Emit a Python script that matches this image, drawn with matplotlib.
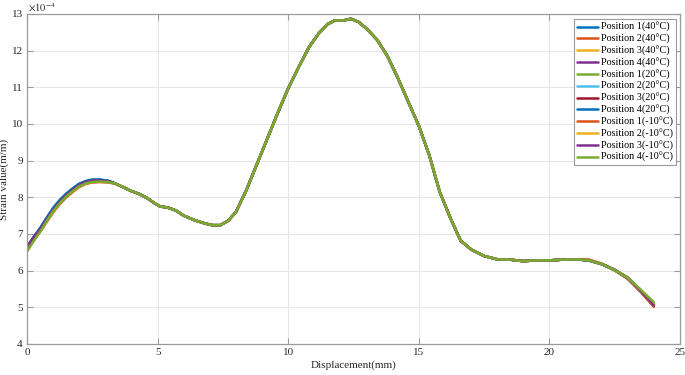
import numpy as np
import matplotlib

matplotlib.use("Agg")
import matplotlib.pyplot as plt

plt.rcParams.update(
    {
        "font.family": ["Liberation Serif", "DejaVu Serif"],
        "font.size": 8,
        "mathtext.fontset": "stix",
    }
)

# ---------------------------------------------------------------------------
# Data (strain in units of 1e-4 m/m)
# ---------------------------------------------------------------------------
displacement = [
    0.0, 0.25, 0.5, 0.75, 1.0, 1.25, 1.5, 1.75, 2.0, 2.25, 2.5, 2.8, 3.1,
    3.4, 3.7, 4.0, 4.3, 4.6, 4.9, 5.1, 5.4, 5.7, 6.0, 6.4, 6.8, 7.1, 7.4,
    7.7, 8.0, 8.4, 8.8, 9.2, 9.6, 10.0, 10.4, 10.8, 11.2, 11.5, 11.8, 12.1,
    12.4, 12.7, 13.0, 13.4, 13.8, 14.2, 14.6, 15.0, 15.4, 15.8, 16.2, 16.6,
    17.0, 17.5, 18.0, 18.5, 19.0, 19.5, 20.0, 20.5, 21.0,
    21.5, 22.0, 22.5, 23.0, 23.5, 24.0,
]
strain_base = [
    6.58, 6.85, 7.10, 7.38, 7.65, 7.87, 8.05, 8.20, 8.33, 8.41, 8.45, 8.46, 8.44,
    8.37, 8.27, 8.17, 8.09, 7.98, 7.83, 7.75, 7.72, 7.64, 7.50, 7.38, 7.29, 7.24, 7.24,
    7.36, 7.60, 8.20, 8.90, 9.60, 10.30, 10.97, 11.55, 12.10, 12.50, 12.72, 12.83, 12.82,
    12.87, 12.78, 12.60, 12.30, 11.85, 11.25, 10.60, 9.95, 9.15, 8.15, 7.45, 6.82,
    6.58, 6.40, 6.31, 6.30, 6.26, 6.28, 6.28, 6.30, 6.31,
    6.28, 6.18, 6.02, 5.80, 5.45, 5.08,
]

labels = [
    "Position 1(40\u00b0C)", "Position 2(40\u00b0C)", "Position 3(40\u00b0C)",
    "Position 4(40\u00b0C)", "Position 1(20\u00b0C)", "Position 2(20\u00b0C)",
    "Position 3(20\u00b0C)", "Position 4(20\u00b0C)", "Position 1(-10\u00b0C)",
    "Position 2(-10\u00b0C)", "Position 3(-10\u00b0C)", "Position 4(-10\u00b0C)",
]

# per-series deviations from the base curve over the first 13 points
head_dev = [
    [0.06, 0.06, 0.06, 0.06, 0.06, 0.05, 0.05, 0.04, 0.04, 0.03, 0.03, 0.02, 0.01],
    [0.00, -0.02, -0.04, -0.05, -0.06, -0.06, -0.05, -0.05, -0.04, -0.04, -0.04, -0.04, -0.03],
    [0.02, 0.01, 0.00, -0.01, -0.02, -0.03, -0.03, -0.03, -0.03, -0.02, -0.02, -0.02, -0.01],
    [0.08, 0.06, 0.04, 0.03, 0.02, 0.02, 0.02, 0.02, 0.02, 0.02, 0.02, 0.01, 0.01],
    [0.00, 0.00, 0.00, 0.00, 0.00, 0.00, 0.00, 0.00, 0.00, 0.00, 0.00, 0.00, 0.00],
    [0.04, 0.04, 0.04, 0.04, 0.04, 0.04, 0.03, 0.03, 0.03, 0.03, 0.02, 0.02, 0.01],
    [0.05, 0.03, 0.01, 0.00, -0.01, -0.02, -0.02, -0.02, -0.02, -0.02, -0.02, -0.01, 0.00],
    [0.05, 0.05, 0.05, 0.05, 0.05, 0.05, 0.04, 0.04, 0.04, 0.03, 0.03, 0.02, 0.01],
    [-0.02, -0.03, -0.04, -0.05, -0.05, -0.05, -0.05, -0.05, -0.05, -0.04, -0.04, -0.04, -0.03],
    [-0.03, -0.03, -0.03, -0.03, -0.03, -0.03, -0.03, -0.03, -0.03, -0.03, -0.03, -0.03, -0.02],
    [0.07, 0.05, 0.03, 0.02, 0.01, 0.01, 0.01, 0.01, 0.01, 0.01, 0.01, 0.00, 0.00],
    [-0.06, -0.05, -0.04, -0.03, -0.03, -0.03, -0.03, -0.03, -0.03, -0.03, -0.03, -0.03, -0.02],
]
# per-series deviations over the last 6 points
tail_dev = [
    [0.00, 0.00, -0.01, -0.02, -0.02, 0.00],
    [0.02, 0.01, 0.00, -0.01, -0.02, -0.04],
    [0.01, 0.00, 0.00, 0.00, -0.01, -0.02],
    [0.00, 0.00, 0.00, 0.01, 0.01, -0.02],
    [0.00, 0.00, 0.00, 0.00, 0.02, 0.05],
    [0.00, -0.01, -0.01, -0.01, 0.00, 0.02],
    [0.01, 0.00, -0.01, -0.02, -0.03, -0.06],
    [0.00, 0.00, 0.00, -0.01, -0.01, 0.00],
    [0.02, 0.01, 0.00, -0.01, -0.02, -0.05],
    [0.01, 0.00, 0.00, 0.00, 0.00, 0.01],
    [0.00, 0.00, 0.01, 0.01, 0.00, -0.02],
    [0.00, 0.00, 0.00, 0.01, 0.03, 0.05],
]

colors = [
    "#0072BD", "#D95319", "#EDB120", "#7E2F8E", "#77AC30", "#4DBEEE",
    "#A2142F", "#0072BD", "#D95319", "#EDB120", "#7E2F8E", "#77AC30",
]

# ---------------------------------------------------------------------------
# Figure
# ---------------------------------------------------------------------------
fig = plt.figure(figsize=(6.85, 3.75), dpi=100)
ax = fig.add_axes([0.0394, 0.0827, 0.9533, 0.88])

x = np.array(displacement)
base = np.array(strain_base)
n_mid = len(base) - 13 - 6

for i, lab in enumerate(labels):
    dev = np.concatenate([head_dev[i], np.zeros(n_mid), tail_dev[i]])
    ax.plot(x, base + dev, color=colors[i], lw=1.8, label=lab,
            solid_joinstyle="round", solid_capstyle="round")

ax.set_xlim(0, 25)
ax.set_ylim(4, 13)
ax.set_xticks([0, 5, 10, 15, 20, 25])
ax.set_yticks(range(4, 14))
ax.grid(True, color="#e6e6e6", lw=0.7)
ax.set_axisbelow(True)

for s in ax.spines.values():
    s.set_color("#9a9a9a")
    s.set_linewidth(0.9)
ax.tick_params(axis="both", direction="in", top=True, right=True, length=4,
               width=0.8, color="#9a9a9a", labelcolor="#262626", labelsize=8,
               pad=3)

ax.set_xlabel("Displacement(mm)", fontsize=8, color="#262626", labelpad=2)
ax.set_ylabel("Strain value(m/m)", fontsize=8, color="#262626", labelpad=2)
ax.text(0.002, 1.0, r"$\times10^{-4}$", transform=ax.transAxes, ha="left",
        va="bottom", fontsize=7.5, color="#262626")

leg = ax.legend(loc="upper right", bbox_to_anchor=(0.997, 0.99), fontsize=7.3,
                handlelength=2.1, handletextpad=0.25, labelspacing=0.18,
                borderpad=0.3, borderaxespad=0.2, fancybox=False, framealpha=1)
leg.get_frame().set_edgecolor("#9a9a9a")
leg.get_frame().set_linewidth(0.8)
for line in leg.get_lines():
    line.set_linewidth(1.8)

fig.savefig("out.png", dpi=100)
